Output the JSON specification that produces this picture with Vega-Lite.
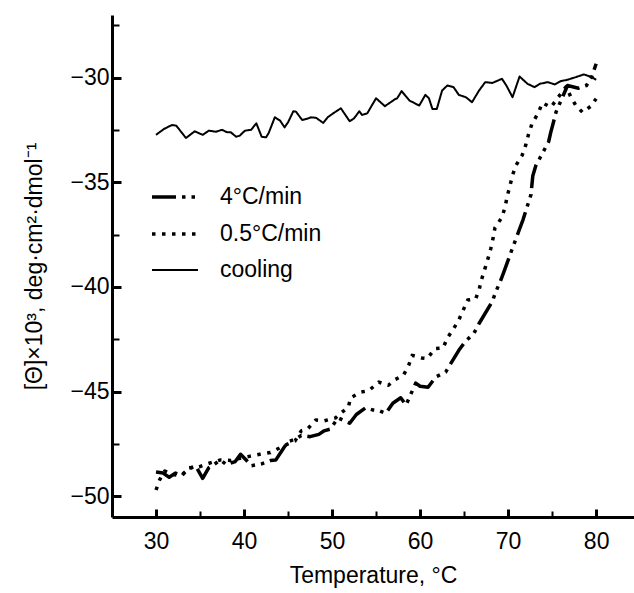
{
  "$schema": "https://vega.github.io/schema/vega-lite/v6.json",
  "width": 522,
  "height": 502,
  "autosize": "none",
  "padding": {"left": 112, "top": 15, "right": 0, "bottom": 76},
  "background": "white",
  "config": {"view": {"stroke": null}, "font": "Liberation Sans"},
  "data": {"values": [
    {"T":30.0,"v":-32.73,"s":"cooling"},{"T":30.9,"v":-32.45,"s":"cooling"},{"T":31.8,"v":-32.26,"s":"cooling"},{"T":32.3,"v":-32.29,"s":"cooling"},{"T":33.4,"v":-32.88,"s":"cooling"},{"T":34.4,"v":-32.56,"s":"cooling"},{"T":35.3,"v":-32.73,"s":"cooling"},{"T":36.0,"v":-32.53,"s":"cooling"},{"T":36.8,"v":-32.58,"s":"cooling"},{"T":37.5,"v":-32.49,"s":"cooling"},{"T":38.1,"v":-32.61,"s":"cooling"},{"T":38.5,"v":-32.61,"s":"cooling"},{"T":39.1,"v":-32.82,"s":"cooling"},{"T":39.5,"v":-32.77,"s":"cooling"},{"T":40.1,"v":-32.53,"s":"cooling"},{"T":40.8,"v":-32.49,"s":"cooling"},{"T":41.4,"v":-32.18,"s":"cooling"},{"T":42.0,"v":-32.82,"s":"cooling"},{"T":42.5,"v":-32.85,"s":"cooling"},{"T":42.8,"v":-32.64,"s":"cooling"},{"T":43.5,"v":-31.89,"s":"cooling"},{"T":44.1,"v":-32.05,"s":"cooling"},{"T":44.6,"v":-32.37,"s":"cooling"},{"T":45.0,"v":-32.13,"s":"cooling"},{"T":45.6,"v":-31.6,"s":"cooling"},{"T":45.9,"v":-31.62,"s":"cooling"},{"T":46.6,"v":-32.02,"s":"cooling"},{"T":47.3,"v":-31.94,"s":"cooling"},{"T":47.6,"v":-31.89,"s":"cooling"},{"T":48.2,"v":-31.92,"s":"cooling"},{"T":49.0,"v":-32.16,"s":"cooling"},{"T":49.5,"v":-31.89,"s":"cooling"},{"T":50.2,"v":-31.68,"s":"cooling"},{"T":51.0,"v":-31.46,"s":"cooling"},{"T":52.0,"v":-32.08,"s":"cooling"},{"T":52.5,"v":-31.94,"s":"cooling"},{"T":53.1,"v":-31.6,"s":"cooling"},{"T":53.4,"v":-31.78,"s":"cooling"},{"T":54.0,"v":-31.7,"s":"cooling"},{"T":55.0,"v":-30.98,"s":"cooling"},{"T":56.0,"v":-31.36,"s":"cooling"},{"T":57.1,"v":-31.04,"s":"cooling"},{"T":57.4,"v":-30.98,"s":"cooling"},{"T":57.9,"v":-30.64,"s":"cooling"},{"T":58.8,"v":-31.09,"s":"cooling"},{"T":59.9,"v":-31.33,"s":"cooling"},{"T":60.6,"v":-30.82,"s":"cooling"},{"T":61.0,"v":-30.98,"s":"cooling"},{"T":61.4,"v":-31.49,"s":"cooling"},{"T":61.9,"v":-31.49,"s":"cooling"},{"T":62.5,"v":-30.61,"s":"cooling"},{"T":63.1,"v":-30.37,"s":"cooling"},{"T":63.8,"v":-30.45,"s":"cooling"},{"T":64.4,"v":-30.82,"s":"cooling"},{"T":65.2,"v":-30.93,"s":"cooling"},{"T":65.9,"v":-31.17,"s":"cooling"},{"T":66.7,"v":-30.61,"s":"cooling"},{"T":67.4,"v":-30.21,"s":"cooling"},{"T":68.2,"v":-30.25,"s":"cooling"},{"T":69.3,"v":-30.05,"s":"cooling"},{"T":69.8,"v":-30.37,"s":"cooling"},{"T":70.5,"v":-30.93,"s":"cooling"},{"T":71.3,"v":-29.94,"s":"cooling"},{"T":72.2,"v":-30.29,"s":"cooling"},{"T":73.0,"v":-30.45,"s":"cooling"},{"T":73.6,"v":-30.29,"s":"cooling"},{"T":74.5,"v":-30.21,"s":"cooling"},{"T":75.3,"v":-30.32,"s":"cooling"},{"T":76.0,"v":-30.16,"s":"cooling"},{"T":76.7,"v":-30.1,"s":"cooling"},{"T":77.7,"v":-29.97,"s":"cooling"},{"T":78.6,"v":-29.84,"s":"cooling"},{"T":79.5,"v":-29.97,"s":"cooling"},{"T":80.0,"v":-30.1,"s":"cooling"},
    {"T":30.0,"v":-48.85,"s":"4°C/min"},{"T":30.8,"v":-48.9,"s":"4°C/min"},{"T":31.5,"v":-49.1,"s":"4°C/min"},{"T":32.2,"v":-48.9,"s":"4°C/min"},{"T":32.9,"v":-49.0,"s":"4°C/min"},{"T":33.7,"v":-48.7,"s":"4°C/min"},{"T":34.5,"v":-48.56,"s":"4°C/min"},{"T":35.3,"v":-49.15,"s":"4°C/min"},{"T":36.0,"v":-48.64,"s":"4°C/min"},{"T":37.35,"v":-48.28,"s":"4°C/min"},{"T":38.0,"v":-48.5,"s":"4°C/min"},{"T":39.0,"v":-48.35,"s":"4°C/min"},{"T":39.6,"v":-48.0,"s":"4°C/min"},{"T":40.3,"v":-48.3,"s":"4°C/min"},{"T":40.8,"v":-48.55,"s":"4°C/min"},{"T":41.5,"v":-48.5,"s":"4°C/min"},{"T":42.0,"v":-48.46,"s":"4°C/min"},{"T":43.0,"v":-48.3,"s":"4°C/min"},{"T":43.6,"v":-48.28,"s":"4°C/min"},{"T":44.5,"v":-47.7,"s":"4°C/min"},{"T":45.0,"v":-47.4,"s":"4°C/min"},{"T":45.9,"v":-47.27,"s":"4°C/min"},{"T":46.5,"v":-47.1,"s":"4°C/min"},{"T":47.5,"v":-47.16,"s":"4°C/min"},{"T":48.5,"v":-47.05,"s":"4°C/min"},{"T":49.1,"v":-46.88,"s":"4°C/min"},{"T":49.8,"v":-46.8,"s":"4°C/min"},{"T":50.2,"v":-46.55,"s":"4°C/min"},{"T":50.7,"v":-46.26,"s":"4°C/min"},{"T":52.0,"v":-46.52,"s":"4°C/min"},{"T":52.76,"v":-46.1,"s":"4°C/min"},{"T":53.8,"v":-45.78,"s":"4°C/min"},{"T":54.6,"v":-45.88,"s":"4°C/min"},{"T":55.3,"v":-45.91,"s":"4°C/min"},{"T":56.1,"v":-46.04,"s":"4°C/min"},{"T":56.9,"v":-45.56,"s":"4°C/min"},{"T":57.8,"v":-45.3,"s":"4°C/min"},{"T":58.4,"v":-45.65,"s":"4°C/min"},{"T":59.5,"v":-44.6,"s":"4°C/min"},{"T":60.0,"v":-44.75,"s":"4°C/min"},{"T":60.9,"v":-44.8,"s":"4°C/min"},{"T":61.8,"v":-44.3,"s":"4°C/min"},{"T":62.9,"v":-44.07,"s":"4°C/min"},{"T":64.4,"v":-43.03,"s":"4°C/min"},{"T":65.2,"v":-42.58,"s":"4°C/min"},{"T":66.1,"v":-42.23,"s":"4°C/min"},{"T":66.7,"v":-41.75,"s":"4°C/min"},{"T":68.2,"v":-40.7,"s":"4°C/min"},{"T":68.6,"v":-40.23,"s":"4°C/min"},{"T":69.1,"v":-39.75,"s":"4°C/min"},{"T":69.5,"v":-39.31,"s":"4°C/min"},{"T":70.5,"v":-38.14,"s":"4°C/min"},{"T":70.9,"v":-37.69,"s":"4°C/min"},{"T":71.3,"v":-37.23,"s":"4°C/min"},{"T":71.7,"v":-36.78,"s":"4°C/min"},{"T":72.6,"v":-35.58,"s":"4°C/min"},{"T":72.7,"v":-35.14,"s":"4°C/min"},{"T":72.8,"v":-34.7,"s":"4°C/min"},{"T":73.15,"v":-34.2,"s":"4°C/min"},{"T":74.6,"v":-33.06,"s":"4°C/min"},{"T":74.85,"v":-32.6,"s":"4°C/min"},{"T":75.15,"v":-32.13,"s":"4°C/min"},{"T":75.45,"v":-31.63,"s":"4°C/min"},{"T":76.75,"v":-30.37,"s":"4°C/min"},{"T":78.0,"v":-30.5,"s":"4°C/min"},{"T":78.9,"v":-30.37,"s":"4°C/min"},{"T":79.5,"v":-29.95,"s":"4°C/min"},{"T":80.0,"v":-29.33,"s":"4°C/min"},
    {"T":30.0,"v":-49.71,"s":"0.5°C/min"},{"T":30.4,"v":-49.23,"s":"0.5°C/min"},{"T":31.0,"v":-48.8,"s":"0.5°C/min"},{"T":31.7,"v":-48.95,"s":"0.5°C/min"},{"T":32.9,"v":-49.04,"s":"0.5°C/min"},{"T":33.7,"v":-48.65,"s":"0.5°C/min"},{"T":34.9,"v":-48.6,"s":"0.5°C/min"},{"T":36.25,"v":-48.4,"s":"0.5°C/min"},{"T":37.35,"v":-48.27,"s":"0.5°C/min"},{"T":38.5,"v":-48.3,"s":"0.5°C/min"},{"T":39.4,"v":-48.2,"s":"0.5°C/min"},{"T":40.6,"v":-48.1,"s":"0.5°C/min"},{"T":41.8,"v":-48.0,"s":"0.5°C/min"},{"T":43.0,"v":-47.92,"s":"0.5°C/min"},{"T":44.5,"v":-47.6,"s":"0.5°C/min"},{"T":45.8,"v":-47.36,"s":"0.5°C/min"},{"T":46.5,"v":-46.88,"s":"0.5°C/min"},{"T":47.2,"v":-46.8,"s":"0.5°C/min"},{"T":48.15,"v":-46.36,"s":"0.5°C/min"},{"T":49.1,"v":-46.4,"s":"0.5°C/min"},{"T":50.4,"v":-46.26,"s":"0.5°C/min"},{"T":51.1,"v":-46.0,"s":"0.5°C/min"},{"T":51.85,"v":-45.75,"s":"0.5°C/min"},{"T":52.1,"v":-45.3,"s":"0.5°C/min"},{"T":53.3,"v":-45.03,"s":"0.5°C/min"},{"T":54.2,"v":-44.95,"s":"0.5°C/min"},{"T":55.3,"v":-44.55,"s":"0.5°C/min"},{"T":56.4,"v":-44.7,"s":"0.5°C/min"},{"T":57.2,"v":-44.42,"s":"0.5°C/min"},{"T":58.1,"v":-44.23,"s":"0.5°C/min"},{"T":58.7,"v":-43.75,"s":"0.5°C/min"},{"T":59.1,"v":-43.27,"s":"0.5°C/min"},{"T":60.2,"v":-43.4,"s":"0.5°C/min"},{"T":60.8,"v":-43.43,"s":"0.5°C/min"},{"T":61.7,"v":-42.95,"s":"0.5°C/min"},{"T":62.6,"v":-42.92,"s":"0.5°C/min"},{"T":63.1,"v":-42.44,"s":"0.5°C/min"},{"T":63.75,"v":-42.03,"s":"0.5°C/min"},{"T":64.35,"v":-41.62,"s":"0.5°C/min"},{"T":64.9,"v":-41.11,"s":"0.5°C/min"},{"T":65.4,"v":-40.63,"s":"0.5°C/min"},{"T":66.3,"v":-40.58,"s":"0.5°C/min"},{"T":66.7,"v":-40.14,"s":"0.5°C/min"},{"T":66.97,"v":-39.66,"s":"0.5°C/min"},{"T":67.35,"v":-39.15,"s":"0.5°C/min"},{"T":67.7,"v":-38.67,"s":"0.5°C/min"},{"T":68.03,"v":-38.17,"s":"0.5°C/min"},{"T":68.3,"v":-37.66,"s":"0.5°C/min"},{"T":68.5,"v":-37.18,"s":"0.5°C/min"},{"T":69.3,"v":-36.67,"s":"0.5°C/min"},{"T":69.66,"v":-36.17,"s":"0.5°C/min"},{"T":69.9,"v":-35.66,"s":"0.5°C/min"},{"T":70.2,"v":-35.18,"s":"0.5°C/min"},{"T":70.5,"v":-34.66,"s":"0.5°C/min"},{"T":70.9,"v":-34.18,"s":"0.5°C/min"},{"T":71.6,"v":-33.7,"s":"0.5°C/min"},{"T":72.0,"v":-33.22,"s":"0.5°C/min"},{"T":72.3,"v":-32.73,"s":"0.5°C/min"},{"T":72.7,"v":-32.21,"s":"0.5°C/min"},{"T":73.4,"v":-31.7,"s":"0.5°C/min"},{"T":73.9,"v":-31.2,"s":"0.5°C/min"},{"T":74.85,"v":-31.41,"s":"0.5°C/min"},{"T":76.6,"v":-30.42,"s":"0.5°C/min"},{"T":77.1,"v":-30.9,"s":"0.5°C/min"},{"T":77.7,"v":-31.33,"s":"0.5°C/min"},{"T":78.45,"v":-31.65,"s":"0.5°C/min"},{"T":79.4,"v":-31.36,"s":"0.5°C/min"},{"T":80.0,"v":-31.0,"s":"0.5°C/min"}
  ]},
  "mark": {"type": "line", "color": "black", "strokeJoin": "round"},
  "encoding": {
    "x": {"field": "T", "type": "quantitative",
      "scale": {"domain": [25, 84.3], "nice": false, "zero": false},
      "axis": {"values": [30,35,40,45,50,55,60,65,70,75,80],
        "labelExpr": "datum.value % 10 === 0 ? datum.label : ''",
        "tickSize": {"condition": {"test": "datum.value % 10 === 0", "value": -8}, "value": -6},
        "tickWidth": {"condition": {"test": "datum.value % 10 === 0", "value": 3}, "value": 2},
        "domainWidth": 3, "domainColor": "black", "tickColor": "black", "labelColor": "black",
        "labelFontSize": 23, "labelPadding": 21, "labelFont": "Liberation Sans",
        "title": "Temperature, °C", "titleFontSize": 23, "titleFontWeight": "normal", "titleColor": "black", "titleFont": "Liberation Sans", "titlePadding": 11,
        "grid": false}},
    "y": {"field": "v", "type": "quantitative",
      "scale": {"domain": [-51, -27], "nice": false, "zero": false},
      "axis": {"values": [-50,-47.5,-45,-42.5,-40,-37.5,-35,-32.5,-30,-27.5],
        "labelExpr": "datum.value % 5 === 0 ? datum.label : ''",
        "tickSize": {"condition": {"test": "datum.value % 5 === 0", "value": -9}, "value": -7},
        "tickWidth": {"condition": {"test": "datum.value % 5 === 0", "value": 3}, "value": 2},
        "domainWidth": 3, "domainColor": "black", "tickColor": "black", "labelColor": "black",
        "labelFontSize": 23, "labelPadding": 12, "labelFont": "Liberation Sans",
        "title": "[Θ]×10³, deg·cm²·dmol⁻¹", "titleFontSize": 23, "titleFontWeight": "normal", "titleColor": "black", "titleFont": "Liberation Sans", "titlePadding": 23,
        "grid": false}},
    "strokeDash": {"field": "s", "type": "nominal",
      "scale": {"type": "ordinal", "domain": ["4°C/min", "0.5°C/min", "cooling"], "range": [[24, 6, 3.5, 6, 3.5, 6], [3.5, 6.5], [1, 0]]},
      "legend": {"orient": "none", "legendX": 38, "legendY": 157, "title": null, "symbolType": "stroke", "symbolSize": 2116, "symbolStrokeColor": "black", "labelFontSize": 23, "labelOffset": 20, "labelColor": "black", "rowPadding": 0, "labelFont": "Liberation Sans"}},
    "strokeWidth": {"field": "s", "type": "nominal",
      "scale": {"type": "ordinal", "domain": ["4°C/min", "0.5°C/min", "cooling"], "range": [3.5, 3.5, 2]},
      "legend": {"orient": "none", "legendX": 38, "legendY": 157, "title": null, "symbolType": "stroke", "symbolSize": 2116, "symbolStrokeColor": "black", "labelFontSize": 23, "labelOffset": 20, "labelColor": "black", "rowPadding": 0, "labelFont": "Liberation Sans"}}
  }
}
